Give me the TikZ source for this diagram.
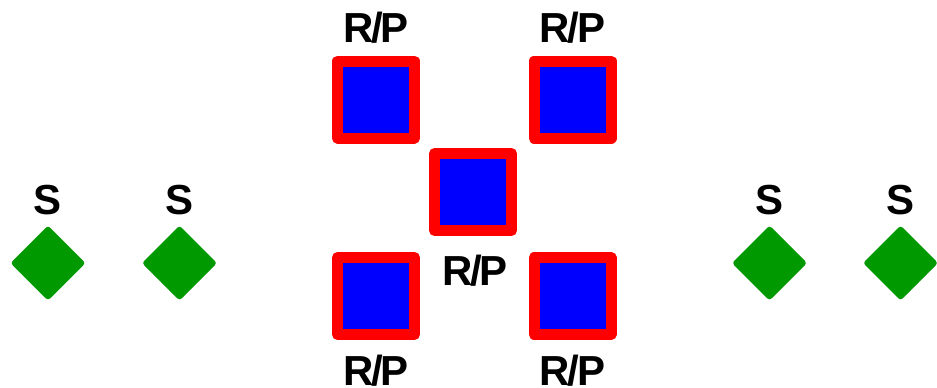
\documentclass[tikz,border=0pt]{standalone}
\usepackage{fontspec}
\setmainfont[LetterSpace=-5]{Liberation Sans}
\usetikzlibrary{shapes.geometric, positioning}
\definecolor{rpred}{RGB}{255,0,0}
\definecolor{rpblue}{RGB}{0,0,255}
\definecolor{sgreen}{RGB}{0,153,0}

\begin{document}
\begin{tikzpicture}[
    x=0.5pt, y=-0.5pt,
    rpbox/.style={draw=rpred, fill=rpblue, line width=5.5pt, line join=round,
                  minimum size=38.5pt, inner sep=0pt},
    sbox/.style={diamond, fill=sgreen, minimum width=37.5pt, minimum height=37.5pt,
                 aspect=1, inner sep=0pt, outer sep=0pt, rounded corners=1.5pt},
    tag/.style={inner sep=0pt, text height=15pt, text depth=0pt,
                font=\fontsize{21}{21}\selectfont\bfseries},
  ]
    \useasboundingbox (0,0) rectangle (937,387);

    % R/P squares
    \node[rpbox] (rptl) at (376,99.5) {};
    \node[rpbox] (rptr) at (572.5,99.5) {};
    \node[rpbox] (rpc) at (473,192) {};
    \node[rpbox] (rpbl) at (376,296) {};
    \node[rpbox] (rpbr) at (572.5,296) {};

    \node[tag, above=6.5pt of rptl] (trptl) {R/P};
    \node[tag, above=6.5pt of rptr] (trptr) {R/P};
    \node[tag, below=9.5pt of rpc, xshift=1pt] (trpc) {R/P};
    \node[tag, below=7.5pt of rpbl] (trpbl) {R/P};
    \node[tag, below=7.5pt of rpbr] (trpbr) {R/P};

    % S diamonds
    \node[sbox] (s1) at (48,263) {};
    \node[sbox] (s2) at (179.5,263) {};
    \node[sbox] (s3) at (769.5,263) {};
    \node[sbox] (s4) at (900.5,263) {};

    \node[tag, above=5.5pt of s1] (ts1) {S};
    \node[tag, above=5.5pt of s2] (ts2) {S};
    \node[tag, above=5.5pt of s3] (ts3) {S};
    \node[tag, above=5.5pt of s4] (ts4) {S};
  \end{tikzpicture}
\end{document}
